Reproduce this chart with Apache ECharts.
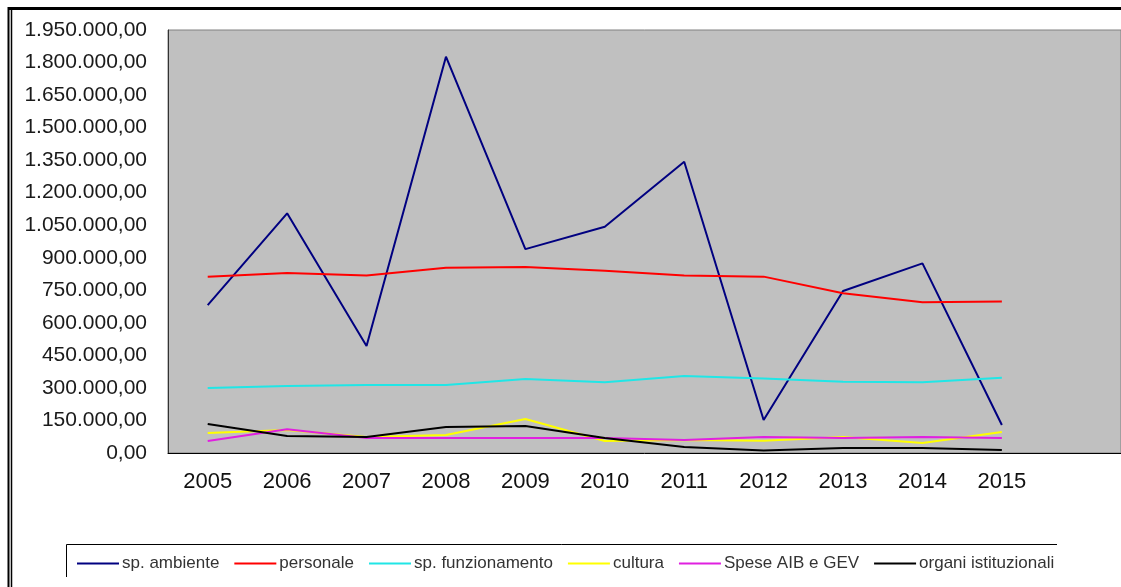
<!DOCTYPE html>
<html>
<head>
<meta charset="utf-8">
<script src="https://cdn.jsdelivr.net/npm/echarts@6/dist/echarts.min.js"></script>
<style>
  html, body { margin: 0; padding: 0; background: #fff; }
  #chart { width: 1121px; height: 587px; }
</style>
</head>
<body>
<div id="chart"></div>
<script>
// anni (l'ultima categoria vuota lascia lo spazio a destra come nell'originale)
const anni = ['2005', '2006', '2007', '2008', '2009', '2010', '2011', '2012', '2013', '2014', '2015', '']

const spAmbiente = [682000, 1105000, 493000, 1827000, 940000, 1043000, 1343000, 152000, 747000, 874000, 129000]
const personale = [813000, 830000, 818000, 854000, 857000, 840000, 818000, 813000, 736000, 695000, 698000]
const spFunzionamento = [300000, 309000, 313000, 313000, 341000, 326000, 355000, 344000, 329000, 326000, 347000]
const cultura = [92000, 106000, 74000, 83000, 157000, 55000, 60000, 57000, 74000, 46000, 97000]
const speseAibGev = [55000, 110000, 69000, 69000, 69000, 69000, 60000, 74000, 69000, 74000, 69000]
const organiIstituzionali = [134000, 78000, 74000, 120000, 124000, 69000, 28000, 12000, 23000, 23000, 14000]

const nomi = ['sp. ambiente', 'personale', 'sp. funzionamento', 'cultura', 'Spese AIB e GEV', 'organi istituzionali']
const colori = ['#000080', '#FF0000', '#20E6E6', '#FFFF00', '#E020E0', '#000000']

// 1950000 -> "1.950.000,00"
function formatIt(v) {
  return String(Math.round(v)).replace(/\B(?=(\d{3})+(?!\d))/g, '.') + ',00'
}

const chart = echarts.init(document.getElementById('chart'))

const serie = [spAmbiente, personale, spFunzionamento, cultura, speseAibGev, organiIstituzionali]

const option = {
  animation: false,
  textStyle: { fontFamily: 'Liberation Sans, Arial, sans-serif' },
  grid: {
    left: 168,
    top: 30,
    bottom: 134,
    right: -9,
    show: true,
    backgroundColor: '#C0C0C0',
    borderColor: '#808080',
    borderWidth: 1
  },
  legend: {
    left: 72,
    top: 550,
    icon: 'rect',
    itemWidth: 42,
    itemHeight: 2,
    itemGap: 15,
    data: nomi,
    textStyle: { color: '#333', fontSize: 17, padding: [0, 0, 0, -2] }
  },
  xAxis: {
    type: 'category',
    data: anni,
    boundaryGap: true,
    axisLine: { lineStyle: { color: '#000', width: 1 } },
    axisTick: { show: false },
    axisLabel: { color: '#111', fontSize: 22, margin: 18, interval: 0 },
    splitLine: { show: false }
  },
  yAxis: {
    type: 'value',
    min: 0,
    max: 1950000,
    interval: 150000,
    axisLine: { show: true, lineStyle: { color: '#333', width: 1 } },
    axisTick: { show: false },
    axisLabel: { color: '#1a1a1a', fontSize: 21, margin: 21, formatter: formatIt },
    splitLine: { show: false }
  },
  series: serie.map((d, i) => ({
    name: nomi[i],
    type: 'line',
    data: d,
    symbol: 'none',
    color: colori[i],
    lineStyle: { width: 2, color: colori[i] }
  })),
  graphic: [
    // cornice del documento
    { type: 'line', shape: { x1: 8, y1: 8.5, x2: 1121, y2: 8.5 }, style: { stroke: '#000', lineWidth: 3 } },
    { type: 'line', shape: { x1: 8.5, y1: 7, x2: 8.5, y2: 587 }, style: { stroke: '#000', lineWidth: 2 } },
    { type: 'line', shape: { x1: 11.5, y1: 7, x2: 11.5, y2: 587 }, style: { stroke: '#000', lineWidth: 1.5 } },
    // riquadro della legenda (solo lati visibili)
    { type: 'polyline', shape: { points: [[1057, 544.5], [66.5, 544.5], [66.5, 577]] }, style: { stroke: '#000', lineWidth: 1, fill: null } }
  ]
}

chart.setOption(option)
</script>
</body>
</html>
